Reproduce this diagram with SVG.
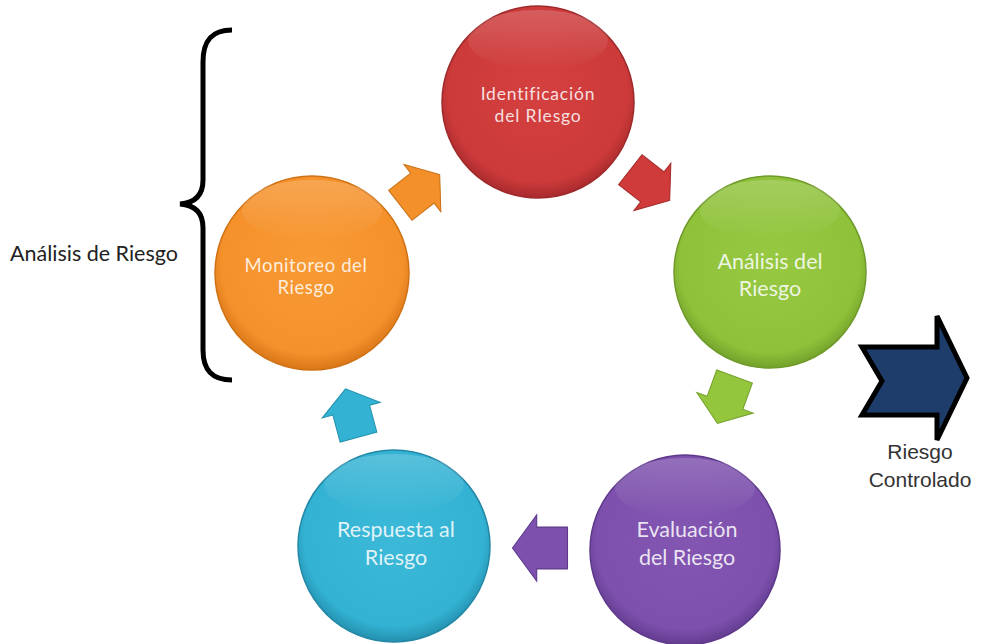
<svg xmlns="http://www.w3.org/2000/svg" width="982" height="644" viewBox="0 0 982 644">
<defs>
<radialGradient id="gRed" cx="50%" cy="45%" r="55%"><stop offset="0" stop-color="#d4403f"/><stop offset="0.85" stop-color="#cc3a3a"/><stop offset="1" stop-color="#a82a2d"/></radialGradient>
<radialGradient id="gGreen" cx="50%" cy="45%" r="55%"><stop offset="0" stop-color="#97c842"/><stop offset="0.85" stop-color="#8fc23a"/><stop offset="1" stop-color="#73a12b"/></radialGradient>
<radialGradient id="gPurple" cx="50%" cy="45%" r="55%"><stop offset="0" stop-color="#8356b2"/><stop offset="0.85" stop-color="#7c50ac"/><stop offset="1" stop-color="#633c90"/></radialGradient>
<radialGradient id="gCyan" cx="50%" cy="45%" r="55%"><stop offset="0" stop-color="#3cb9d8"/><stop offset="0.85" stop-color="#33b2d3"/><stop offset="1" stop-color="#2490ae"/></radialGradient>
<radialGradient id="gOrange" cx="50%" cy="45%" r="55%"><stop offset="0" stop-color="#f89a35"/><stop offset="0.85" stop-color="#f5912b"/><stop offset="1" stop-color="#d87618"/></radialGradient>
<linearGradient id="hl" x1="0" y1="0" x2="0" y2="1"><stop offset="0" stop-color="#fff" stop-opacity="0.18"/><stop offset="1" stop-color="#fff" stop-opacity="0"/></linearGradient>
<path id="arr" d="M -25,-19 L 3,-19 L 3,-30 L 25,0 L 3,30 L 3,19 L -25,19 Z"/>
</defs>
<style>
.node circle.b{stroke-width:1.5}
.lbl{font-family:Lato,"Open Sans","Liberation Sans",sans-serif;fill:#fff;fill-opacity:0.85;text-anchor:middle}
.side{font-family:Lato,"Open Sans","Liberation Sans",sans-serif;fill:#222;font-size:21.5px}
.out{font-family:"Liberation Sans",Arial,sans-serif;fill:#333;font-size:21px;text-anchor:middle}
.hl{fill:url(#hl)}
</style>
<rect width="982" height="644" fill="#fff"/>

<g id="brace">
<path d="M 232,30 C 212,30 203,40 203,62 L 203,180 C 203,196 194,203 180,204 C 194,205 203,212 203,228 L 203,350 C 203,370 212,380 232,380" fill="none" stroke="#000" stroke-width="5"/>
<text class="side" x="10" y="261">Análisis de Riesgo</text>
</g>

<g id="connectors">
<use href="#arr" transform="translate(420,190) rotate(-38)" fill="#f3902a" stroke="#c86f15" stroke-width="1"/>
<use href="#arr" transform="translate(650,185) rotate(38)" fill="#cf3a3a" stroke="#a32a2a" stroke-width="1"/>
<use href="#arr" transform="translate(726,400) rotate(110)" fill="#93c63c" stroke="#74a22c" stroke-width="1"/>
<use href="#arr" transform="translate(540,548) rotate(180) scale(1.1)" fill="#7c50ac" stroke="#5f3a8c" stroke-width="1"/>
<use href="#arr" transform="translate(352,413) rotate(-105)" fill="#33b2d3" stroke="#2290ad" stroke-width="1"/>
</g>

<g id="n-identificacion" class="node">
<circle class="b" cx="538" cy="102" r="96" fill="url(#gRed)" stroke="#9e2a2c"/>
<ellipse class="hl" cx="538" cy="40" rx="70" ry="30"/>
<text class="lbl" x="538" y="100" font-size="17.5" letter-spacing="0.8">Identificación</text>
<text class="lbl" x="538" y="122" font-size="17.5" letter-spacing="0.8">del RIesgo</text>
</g>

<g id="n-analisis" class="node">
<circle class="b" cx="770" cy="272" r="96" fill="url(#gGreen)" stroke="#6f9a2a"/>
<ellipse class="hl" cx="770" cy="210" rx="70" ry="30"/>
<text class="lbl" x="770" y="269" font-size="21.5">Análisis del</text>
<text class="lbl" x="770" y="296" font-size="21.5">Riesgo</text>
</g>

<g id="n-evaluacion" class="node">
<circle class="b" cx="685" cy="550" r="95" fill="url(#gPurple)" stroke="#5e388a"/>
<ellipse class="hl" cx="685" cy="488" rx="70" ry="30"/>
<text class="lbl" x="687" y="537" font-size="21.5">Evaluación</text>
<text class="lbl" x="687" y="565" font-size="21.5">del Riesgo</text>
</g>

<g id="n-respuesta" class="node">
<circle class="b" cx="394" cy="546" r="96" fill="url(#gCyan)" stroke="#2388a6"/>
<ellipse class="hl" cx="394" cy="484" rx="70" ry="30"/>
<text class="lbl" x="396" y="537" font-size="21.5">Respuesta al</text>
<text class="lbl" x="396" y="565" font-size="21.5">Riesgo</text>
</g>

<g id="n-monitoreo" class="node">
<circle class="b" cx="312" cy="273" r="97" fill="url(#gOrange)" stroke="#cf7216"/>
<ellipse class="hl" cx="312" cy="210" rx="70" ry="30"/>
<text class="lbl" x="306" y="272" font-size="18.5" letter-spacing="0.6">Monitoreo del</text>
<text class="lbl" x="306" y="294" font-size="18.5" letter-spacing="0.6">Riesgo</text>
</g>

<g id="n-controlado">
<path d="M 862,347 L 937,347 L 937,316 L 967,378 L 937,440 L 937,415 L 862,415 L 882,381 Z" fill="#1e3d6b" stroke="#000" stroke-width="5" stroke-linejoin="miter"/>
<text class="out" x="920" y="459">Riesgo</text>
<text class="out" x="920" y="487">Controlado</text>
</g>
</svg>
